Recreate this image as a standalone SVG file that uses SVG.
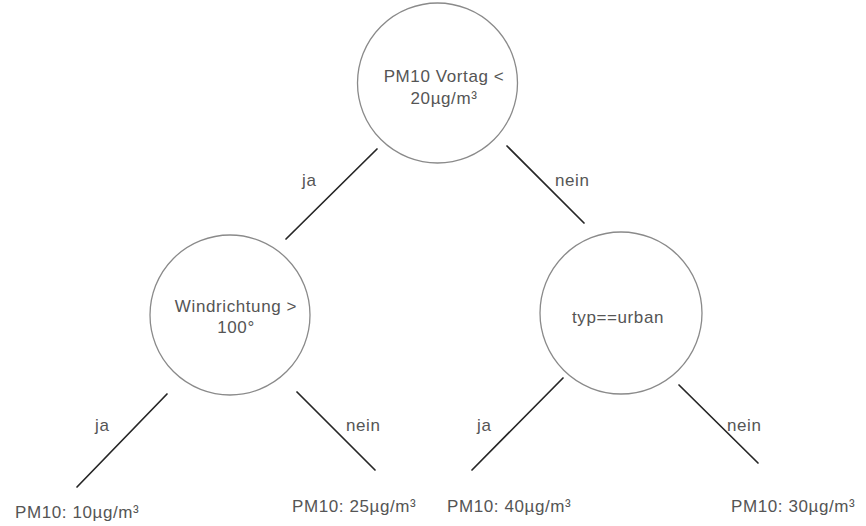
<svg xmlns="http://www.w3.org/2000/svg" width="866" height="526" viewBox="0 0 866 526">
<style>
  .node { fill: #ffffff; stroke: #8a8a8a; stroke-width: 1.3; }
  .t { font-family: "Liberation Sans", Arial, sans-serif; font-size: 17px; fill: #555555; letter-spacing: 0.6px; }
  .c { text-anchor: middle; }
  .edge { stroke: #262626; stroke-width: 1.7; stroke-linecap: round; fill: none; }
</style>
<rect width="866" height="526" fill="#ffffff"/>
<g id="connectors">
  <line class="edge" x1="377" y1="149" x2="286" y2="239"/>
  <line class="edge" x1="507" y1="146" x2="584" y2="223"/>
  <line class="edge" x1="167" y1="394" x2="77" y2="487"/>
  <line class="edge" x1="297" y1="392" x2="375" y2="470"/>
  <line class="edge" x1="563" y1="378" x2="472" y2="470"/>
  <line class="edge" x1="679" y1="385" x2="758" y2="463"/>
  <text class="t" x="302" y="186">ja</text>
  <text class="t" x="555" y="186">nein</text>
  <text class="t" x="95" y="431">ja</text>
  <text class="t" x="346" y="431">nein</text>
  <text class="t" x="477" y="431">ja</text>
  <text class="t" x="727" y="431">nein</text>
</g>
<g id="node-root">
  <circle class="node" cx="437.5" cy="83" r="80"/>
  <text class="t c" x="444" y="82">PM10 Vortag &lt;</text>
  <text class="t c" x="444" y="104">20µg/m³</text>
</g>
<g id="node-wind">
  <circle class="node" cx="230" cy="315" r="80"/>
  <text class="t c" x="236" y="312">Windrichtung &gt;</text>
  <text class="t c" x="236" y="333">100°</text>
</g>
<g id="node-typ">
  <circle class="node" cx="621" cy="313" r="81"/>
  <text class="t c" x="618" y="323">typ==urban</text>
</g>
<g id="leaf-1">
  <text class="t" x="15" y="518">PM10: 10µg/m³</text>
</g>
<g id="leaf-2">
  <text class="t" x="292" y="512">PM10: 25µg/m³</text>
</g>
<g id="leaf-3">
  <text class="t" x="447" y="512">PM10: 40µg/m³</text>
</g>
<g id="leaf-4">
  <text class="t" x="731" y="512">PM10: 30µg/m³</text>
</g>
</svg>
